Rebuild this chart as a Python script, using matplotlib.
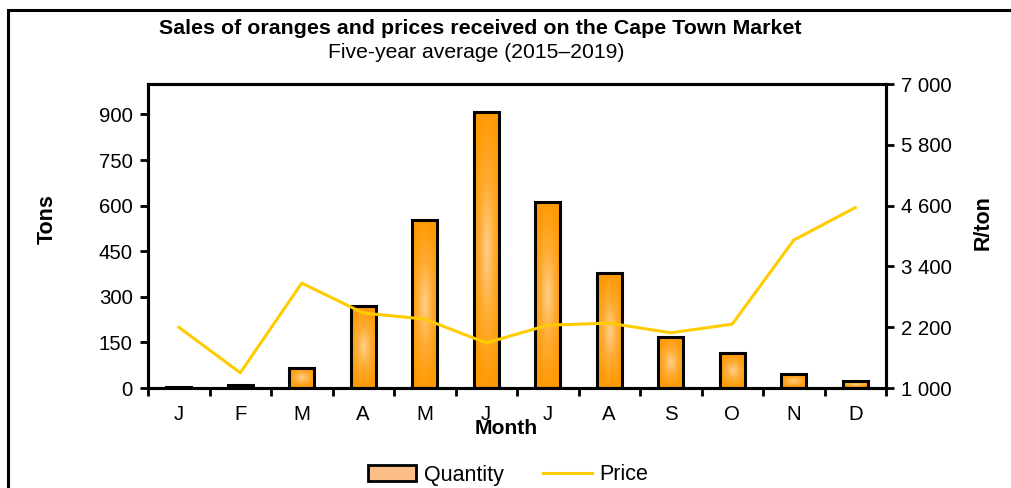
import numpy as np
import matplotlib
matplotlib.use('Agg')
import matplotlib.pyplot as plt
from matplotlib.colors import LinearSegmentedColormap
from matplotlib.patches import Rectangle, Patch
from matplotlib.lines import Line2D
from matplotlib.ticker import FuncFormatter

plt.rcParams['font.family'] = ['Liberation Sans', 'DejaVu Sans']

# Dados
months = ['J', 'F', 'M', 'A', 'M', 'J', 'J', 'A', 'S', 'O', 'N', 'D']
tons = [3, 10, 66, 270, 553, 908, 612, 378, 168, 115, 46, 23]
price = [2200, 1300, 3070, 2480, 2360, 1890, 2240, 2280, 2090, 2260, 3920, 4560]

left_ticks = [0, 150, 300, 450, 600, 750, 900]
right_ticks = [1000, 2200, 3400, 4600, 5800, 7000]

W, H = 1011, 488
fig = plt.figure(figsize=(W / 100, H / 100), dpi=100)
ax = fig.add_axes([148 / W, 1 - 388 / H, 738 / W, 304 / H])
ax2 = ax.twinx()

# Barras com gradiente
x = np.arange(len(months))
bars = ax.bar(x, tons, width=0.41, facecolor='none', edgecolor='black',
              linewidth=2.2, zorder=3)
cmap = LinearSegmentedColormap.from_list('orng', ['#FFCF8C', '#FFAC33', '#FF9A05'])
gy, gx = np.mgrid[-1:1:120j, -1:1:60j]
r = np.clip(np.sqrt(gx**2 * 0.8 + gy**2), 0, 1)
for b in bars:
    im = ax.imshow(r, cmap=cmap, vmin=0, vmax=1, aspect='auto',
                   extent=[b.get_x(), b.get_x() + b.get_width(), 0, b.get_height()],
                   zorder=2, interpolation='bilinear')
    im.set_clip_path(b)

ax.set_xlim(-0.5, 11.5)
ax.set_ylim(0, 1000)
ax.set_yticks(left_ticks)
ax.set_xticks(x)
ax.set_xticklabels(months)
ax.set_xticks(np.arange(-0.5, 12, 1), minor=True)
ax.tick_params(axis='x', which='major', length=0, pad=19, labelsize=14.7)
ax.tick_params(axis='x', which='minor', length=6, width=2, direction='out')
ax.tick_params(axis='y', length=6, width=2, labelsize=14.7, pad=5)
for t in ax.get_xticklabels():
    t.set_va('center')

# Linha de preco
ax2.plot(x, price, color='#FFCC00', linewidth=2.2, zorder=4)
ax2.set_ylim(1000, 7000)
ax2.set_yticks(right_ticks)
ax2.yaxis.set_major_formatter(FuncFormatter(lambda v, p: f'{int(v):,}'.replace(',', ' ')))
ax2.tick_params(axis='y', length=6, width=2, labelsize=14.7, pad=5)
ax2.set_zorder(ax.get_zorder() + 1)
ax2.patch.set_visible(False)

for a in (ax, ax2):
    for s in a.spines.values():
        s.set_linewidth(2.2)

fig.text(47 / W, 1 - 219 / H, 'Tons', rotation=90, ha='center', va='center',
         fontsize=15.5, fontweight='bold')
fig.text(983 / W, 1 - 223 / H, 'R/ton', rotation=90, ha='center', va='center',
         fontsize=15.5, fontweight='bold')
fig.text(506 / W, 1 - 429 / H, 'Month', ha='center', va='center',
         fontsize=15.2, fontweight='bold', zorder=10)

fig.text(480 / W, 1 - 29 / H, 'Sales of oranges and prices received on the Cape Town Market',
         ha='center', va='center', fontsize=15.4, fontweight='bold')
fig.text(476 / W, 1 - 52 / H, 'Five-year average (2015\u20132019)',
         ha='center', va='center', fontsize=15.2)

# Legenda
handles = [Patch(facecolor='#FDBF88', edgecolor='black', linewidth=2),
           Line2D([0], [0], color='#FFCC00', linewidth=2.2)]
fig.legend(handles, ['Quantity', 'Price'], loc='center', ncol=2,
           bbox_to_anchor=(508 / W, 1 - 475 / H), frameon=False, fontsize=15.5,
           handlelength=2.25, handleheight=0.75, columnspacing=1.85, handletextpad=0.35)

# Moldura
fig.patches.append(Rectangle((8 / W, -0.1), 1.2, 0.1 + 1 - 10 / H,
                             transform=fig.transFigure, fill=False,
                             edgecolor='black', linewidth=2.2))

fig.savefig('out.png', dpi=100)
